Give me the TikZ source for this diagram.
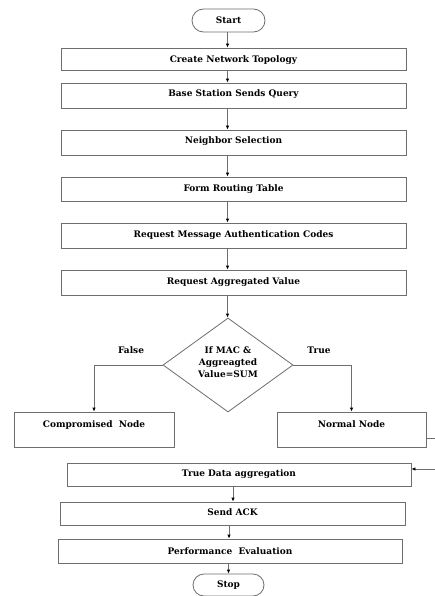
\documentclass[tikz,border=0pt]{standalone}
\usepackage{fontspec}
\setmainfont{DejaVu Serif}
\usetikzlibrary{arrows.meta,shapes.geometric,shapes.misc}
\definecolor{linegray}{HTML}{6E6E6E}
\begin{document}
\begin{tikzpicture}[x=1pt,y=-1pt,
  box/.style={draw=linegray, line width=0.8pt, rectangle, inner sep=0pt, align=center, font=\bfseries\fontsize{9}{12}\selectfont},
  term/.style={draw=linegray, line width=0.8pt, rounded rectangle, inner sep=0pt, font=\bfseries\fontsize{9}{12}\selectfont},
  lbl/.style={inner sep=0pt, font=\bfseries\fontsize{9}{12}\selectfont},
  conn/.style={draw=linegray, line width=0.8pt, -{Latex[length=4pt,width=3.5pt,black]}},
  plain/.style={draw=linegray, line width=0.8pt}]
\useasboundingbox (0,0) rectangle (435,596);
\fill[white] (0,0) rectangle (435,596);
\coordinate (col) at (227.5,0);
% nodes
\node[term, minimum width=73pt, minimum height=23pt] (start) at (228.5,20.5) {Start};
\node[box, minimum width=345pt, text height=14.5pt, text depth=7.5pt] (cnt) at (233.5,59) {Create Network Topology};
\node[box, minimum width=345pt, text height=14pt, text depth=11pt] (bsq) at (233.5,95.5) {Base Station Sends Query};
\node[box, minimum width=345pt, text height=14pt, text depth=11pt] (ns) at (233.5,142.5) {Neighbor Selection};
\node[box, minimum width=345pt, text height=14pt, text depth=10pt] (frt) at (233.5,189) {Form Routing Table};
\node[box, minimum width=345pt, text height=14pt, text depth=11pt] (rmac) at (233.5,235.5) {Request Message Authentication Codes};
\node[box, minimum width=345pt, text height=14pt, text depth=11pt] (rav) at (233.5,282.5) {Request Aggregated Value};
\node[diamond, draw=linegray, line width=0.8pt, minimum width=130pt, minimum height=94pt, inner sep=0pt] (d) at (228,365) {};
\node[lbl, align=center] (dtext) at (228,362) {If MAC \&\\Aggreagted\\Value=SUM};
\node[lbl] (flbl) at (131,350) {False};
\node[lbl] (tlbl) at (319,350) {True};
\node[box, minimum width=160pt, text height=15.5pt, text depth=19.5pt] (cn) at (94,429.5) {Compromised~~Node};
\node[box, minimum width=149pt, text height=15.5pt, text depth=19.5pt] (nn) at (351.5,429.5) {Normal Node};
\node[box, minimum width=344pt, text height=13pt, text depth=10pt] (td) at (239,474.5) {True Data aggregation};
\node[box, minimum width=345pt, text height=13.5pt, text depth=9.5pt] (sa) at (232.5,513.5) {Send ACK};
\node[box, minimum width=344pt, text height=15pt, text depth=9pt] (pe) at (230,551) {Performance~~Evaluation};
\node[term, minimum width=71pt, minimum height=22pt] (stop) at (228.5,585) {Stop};
% connectors
\draw[conn] (start.south -| col) -- (cnt.north -| col);
\draw[conn] (cnt.south -| col) -- (bsq.north -| col);
\draw[conn] (bsq.south -| col) -- (ns.north -| col);
\draw[conn] (ns.south -| col) -- (frt.north -| col);
\draw[conn] (frt.south -| col) -- (rmac.north -| col);
\draw[conn] (rmac.south -| col) -- (rav.north -| col);
\draw[conn] (rav.south -| col) -- (d.north -| col);
\draw[conn] (d.west) -| (cn.north);
\draw[conn] (d.east) -| (nn.north);
\draw[conn] ([yshift=-8.5pt]nn.east) -- ++(25,0) |- ([yshift=5.5pt]td.east);
\draw[conn] ([xshift=-6pt]td.south) -- ([xshift=-6pt]td.south |- sa.north);
\draw[conn] ([xshift=-3.5pt]sa.south) -- ([xshift=-3.5pt]sa.south |- pe.north);
\draw[conn] (pe.south -| stop.north) -- (stop.north);
\end{tikzpicture}
\end{document}
